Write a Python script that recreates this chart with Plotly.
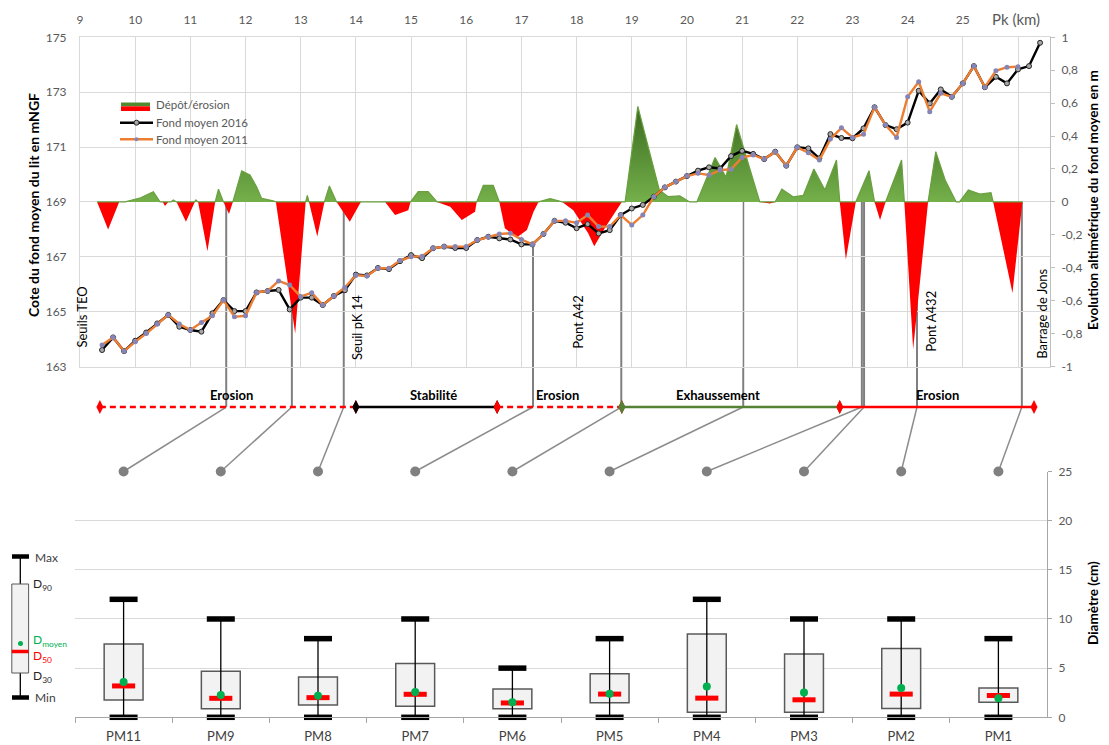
import plotly.graph_objects as go

W, H = 1109, 745          # browser window
OFF = 8                    # default page (body) margin of the html page
FW, FH = W - OFF, H - OFF  # figure fills the window from the body offset to its edge

# ---------------- data : top chart ----------------
pk = [9.4, 9.6, 9.8, 10.0, 10.2, 10.4, 10.6, 10.8, 11.0, 11.2,
      11.4, 11.6, 11.8, 12.0, 12.2, 12.4, 12.6, 12.8, 13.0, 13.2,
      13.4, 13.6, 13.8, 14.0, 14.2, 14.4, 14.6, 14.8, 15.0, 15.2,
      15.4, 15.6, 15.8, 16.0, 16.2, 16.4, 16.6, 16.8, 17.0, 17.2,
      17.4, 17.6, 17.8, 18.0, 18.2, 18.4, 18.6, 18.8, 19.0, 19.2,
      19.4, 19.6, 19.8, 20.0, 20.2, 20.4, 20.6, 20.8, 21.0, 21.2,
      21.4, 21.6, 21.8, 22.0, 22.2, 22.4, 22.6, 22.8, 23.0, 23.2,
      23.4, 23.6, 23.8, 24.0, 24.2, 24.4, 24.6, 24.8, 25.0, 25.2,
      25.4, 25.6, 25.8, 26.0, 26.2, 26.4]

fond_2016 = [163.60, 164.06, 163.56, 163.94, 164.24, 164.57, 164.88, 164.45, 164.33, 164.27,
             164.94, 165.42, 165.02, 165.02, 165.70, 165.75, 165.79, 165.08, 165.51, 165.51,
             165.24, 165.57, 165.78, 166.35, 166.32, 166.59, 166.55, 166.84, 167.06, 166.95,
             167.31, 167.37, 167.32, 167.32, 167.61, 167.73, 167.67, 167.63, 167.45, 167.45,
             167.83, 168.31, 168.24, 168.04, 168.19, 167.85, 167.97, 168.52, 168.76, 168.89,
             169.19, 169.53, 169.74, 169.94, 170.14, 170.26, 170.22, 170.67, 170.86, 170.75,
             170.56, 170.83, 170.32, 170.99, 170.95, 170.59, 171.47, 171.33, 171.32, 171.68,
             172.45, 171.80, 171.65, 171.89, 173.05, 172.59, 173.10, 172.83, 173.32, 173.95,
             173.18, 173.56, 173.32, 173.83, 173.95, 174.80]

pk_2011 = [9.4, 9.6, 9.8, 10.0, 10.2, 10.4, 10.6, 10.8, 11.0, 11.2,
           11.4, 11.6, 11.8, 12.0, 12.2, 12.4, 12.6, 12.8, 13.0, 13.2,
           13.4, 13.6, 13.8, 14.0, 14.2, 14.4, 14.6, 14.8, 15.0, 15.2,
           15.4, 15.6, 15.8, 16.0, 16.2, 16.4, 16.6, 16.8, 17.0, 17.2,
           17.4, 17.6, 17.8, 18.0, 18.2, 18.4, 18.6, 18.8, 19.0, 19.2,
           19.4, 19.6, 19.8, 20.0, 20.2, 20.4, 20.6, 20.8, 21.0, 21.2,
           21.4, 21.6, 21.8, 22.0, 22.2, 22.4, 22.6, 22.8, 23.0, 23.2,
           23.4, 23.6, 23.8, 24.0, 24.2, 24.4, 24.6, 24.8, 25.0, 25.2,
           25.4, 25.6, 25.8, 26.0]

fond_2011 = [163.78, 164.06, 163.56, 163.90, 164.20, 164.55, 164.88, 164.55, 164.33, 164.60,
             164.85, 165.42, 164.81, 164.85, 165.70, 165.75, 166.12, 165.97, 165.55, 165.69,
             165.24, 165.57, 165.88, 166.33, 166.30, 166.58, 166.58, 166.86, 167.00, 167.02,
             167.31, 167.37, 167.37, 167.37, 167.61, 167.73, 167.83, 167.86, 167.63, 167.45,
             167.83, 168.31, 168.31, 168.24, 168.52, 168.10, 168.10, 168.52, 168.16, 168.52,
             169.19, 169.53, 169.74, 169.94, 170.04, 169.98, 170.16, 170.19, 170.62, 170.71,
             170.56, 170.83, 170.32, 170.99, 170.79, 170.53, 171.29, 171.70, 171.35, 171.47,
             172.45, 171.80, 171.35, 172.83, 173.38, 172.29, 172.96, 172.83, 173.32, 173.95,
             173.18, 173.78, 173.91, 173.93]

# Dépôt / érosion (m), vertices of the area
pk_evol = [9.31, 9.51, 9.71, 9.82, 10.10, 10.33, 10.45, 10.50, 10.54, 10.60,
           10.65, 10.69, 10.75, 10.92, 11.08, 11.10, 11.14, 11.31, 11.45, 11.51,
           11.60, 11.70, 11.77, 11.93, 12.08, 12.20, 12.29, 12.50, 12.55, 12.90,
           13.09, 13.12, 13.15, 13.30, 13.43, 13.52, 13.65, 13.89, 14.09, 14.53,
           14.71, 14.95, 14.99, 15.13, 15.31, 15.47, 15.71, 15.92, 16.16, 16.19,
           16.31, 16.49, 16.60, 16.70, 16.85, 16.94, 17.10, 17.22, 17.31, 17.52,
           17.74, 17.94, 18.21, 18.32, 18.53, 18.82, 18.88, 19.11, 19.50, 19.66,
           19.87, 20.05, 20.18, 20.51, 20.71, 20.90, 21.32, 21.50, 21.60, 21.72,
           21.93, 22.11, 22.30, 22.50, 22.71, 22.77, 22.88, 23.06, 23.30, 23.40,
           23.50, 23.60, 23.89, 23.94, 24.10, 24.37, 24.51, 24.68, 24.88, 24.94,
           25.10, 25.31, 25.51, 25.55, 25.90, 26.08]
evol = [0, -0.167, 0, 0, 0.025, 0.062, 0, 0, -0.025, 0,
        0, 0.012, 0, -0.12, 0, 0.012, 0, -0.30, 0, 0.077,
        0, -0.073, 0, 0.188, 0.163, 0.092, 0.022, 0.006, 0, -0.80,
        0, 0.04, 0, -0.21, 0, 0.097, 0, -0.12, 0, 0,
        -0.08, -0.05, 0, 0.062, 0.062, 0, -0.03, -0.11, -0.06, 0,
        0.10, 0.10, 0, -0.16, -0.20, -0.21, -0.17, -0.06, 0, 0.02,
        0, -0.05, -0.19, -0.27, -0.15, 0, 0, 0.58, 0.072, 0.032,
        0.036, 0, 0, 0.27, 0.15, 0.47, 0, -0.01, 0, 0.077,
        0.03, 0.04, 0.20, 0.072, 0.255, 0, -0.35, 0, 0.19, 0,
        -0.11, 0, 0.255, 0, -0.895, 0, 0.305, 0.133, 0, 0,
        0.072, 0.048, 0.056, 0, -0.553, 0]

site_labels = ["Seuils TEO", "Seuil pK 14", "Pont A42", "Pont A432", "Barrage de Jons"]
site_label_pk = [9.04, 14.02, 18.02, 24.42, 26.43]
site_label_z = [164.79, 164.44, 164.62, 164.66, 164.91]

zone_labels = ["Erosion", "Stabilité", "Erosion", "Exhaussement", "Erosion"]
zone_start = [9.36, 14.0, 16.56, 18.82, 22.77]
zone_end = [14.0, 16.56, 18.82, 22.77, 26.29]
zone_label_pk = [11.75, 15.40, 17.66, 20.56, 24.55]
zone_color = ["#ff0000", "#000000", "#ff0000", "#548235", "#ff0000"]
zone_dash = ["6px,4px", "solid", "6px,4px", "solid", "solid"]

# ---------------- data : grain sizes ----------------
stations = ["PM11", "PM9", "PM8", "PM7", "PM6", "PM5", "PM4", "PM3", "PM2", "PM1"]
station_pk = [11.65, 12.84, 13.78, 17.21, 18.81, 21.02, 23.17, 23.21, 24.17, 26.07]
station_top_z = [169, 169, 169, 167.45, 168.5, 169, 169, 169, 169, 169]
d_min = [0, 0, 0, 0, 0, 0, 0, 0, 0, 0]
d30 = [1.76, 0.88, 1.25, 1.12, 0.88, 1.47, 0.51, 0.51, 0.89, 1.54]
d50 = [3.19, 1.93, 2.00, 2.34, 1.46, 2.36, 1.95, 1.78, 2.36, 2.22]
d_moy = [3.60, 2.27, 2.20, 2.58, 1.53, 2.39, 3.14, 2.53, 2.97, 1.95]
d90 = [7.46, 4.68, 4.10, 5.46, 2.88, 4.44, 8.47, 6.45, 7.00, 2.97]
d_max = [12, 10, 8, 10, 5, 8, 12, 10, 10, 8]

# ---------------- layout geometry (window pixels -> paper) ----------------


def px(x):
    return (x - OFF) / FW


def py(y):
    return 1 - (y - OFF) / FH


TOP_X = (px(80), px(1050))
TOP_Y = (py(366.5), py(37.3))
STRIP_Y = (py(471.5), py(366.5))
BOT_X = (px(75), px(1047))
BOT_Y = (py(717.3), py(471.5))
PK_RANGE = (9, 26.58)
Z_RANGE = (163, 175)
EVOL_RANGE = (-1, 1)
D_RANGE = (0, 25)
ROW = 0.614
LABEL_ROW = 0.73

FONT = "Lato, 'Open Sans', sans-serif"
GRAY = "#595959"
GRID = "#d9d9d9"


def lin(v, r, d):
    return d[0] + (v - r[0]) / (r[1] - r[0]) * (d[1] - d[0])


def cat_paper(i):
    return BOT_X[0] + (i + 0.5) / len(stations) * (BOT_X[1] - BOT_X[0])


row_paper = lin(ROW, (0, 1), STRIP_Y)
dot_paper = lin(D_RANGE[1], D_RANGE, BOT_Y)

fig = go.Figure()

# ---- area dépôt/érosion (base axis y, right side) ----
fig.add_trace(go.Scatter(
    x=pk_evol, y=[min(v, 0) for v in evol], mode="lines", fill="tozeroy",
    fillcolor="#ff0000", line=dict(width=0, color="#ff0000"),
    xaxis="x", yaxis="y", hoverinfo="skip"))
fig.add_trace(go.Scatter(
    x=pk_evol, y=[max(v, 0) for v in evol], mode="lines", fill="tozeroy",
    fillgradient=dict(type="vertical", colorscale=[[0, "#74b04a"], [1, "#3a6a20"]]),
    line=dict(width=1.2, color="#6a9f3f"),
    xaxis="x", yaxis="y", hoverinfo="skip"))

# ---- mean bed elevation lines (overlay axis y2) ----
fig.add_trace(go.Scatter(
    x=pk, y=fond_2016, mode="lines+markers",
    line=dict(color="#000000", width=2.4),
    marker=dict(size=5, color="#a6a6a6", line=dict(color="#262626", width=1)),
    xaxis="x", yaxis="y2"))
fig.add_trace(go.Scatter(
    x=pk_2011, y=fond_2011, mode="lines+markers",
    line=dict(color="#ed7d31", width=2.4),
    marker=dict(size=5, color="#8585b8", line=dict(width=0)),
    xaxis="x", yaxis="y2"))

# ---- zones (strip subplot) ----
for s, e, c, dsh in zip(zone_start, zone_end, zone_color, zone_dash):
    fig.add_trace(go.Scatter(
        x=[s, e], y=[ROW, ROW], mode="lines+markers",
        line=dict(color=c, width=2.6, dash=dsh),
        marker=dict(symbol="diamond-tall", size=10, color=c),
        xaxis="x3", yaxis="y4", cliponaxis=False, hoverinfo="skip"))

# ---- grain size boxes ----
wx, wy = [], []
for i, st in enumerate(stations):
    wx += [st, st, None]
    wy += [d_min[i], d_max[i], None]
fig.add_trace(go.Scatter(x=wx, y=wy, mode="lines", line=dict(color="#000000", width=1.3),
                         xaxis="x2", yaxis="y3", hoverinfo="skip"))
fig.add_trace(go.Bar(
    x=stations, y=[b - a for a, b in zip(d30, d90)], base=d30, width=0.4,
    marker=dict(color="#f2f2f2", line=dict(color="#595959", width=1.5)),
    xaxis="x2", yaxis="y3"))
fig.add_trace(go.Scatter(
    x=stations + stations, y=d_min + d_max, mode="markers",
    marker=dict(symbol="line-ew", size=20, line=dict(color="#000000", width=5.5)),
    xaxis="x2", yaxis="y3", cliponaxis=False))
fig.add_trace(go.Scatter(
    x=stations, y=d50, mode="markers",
    marker=dict(symbol="line-ew", size=16.5, line=dict(color="#ff0000", width=5)),
    xaxis="x2", yaxis="y3", cliponaxis=False))
fig.add_trace(go.Scatter(
    x=stations, y=d_moy, mode="markers",
    marker=dict(symbol="circle", size=8, color="#00b050"),
    xaxis="x2", yaxis="y3", cliponaxis=False))
fig.add_trace(go.Scatter(
    x=stations, y=[D_RANGE[1]] * len(stations), mode="markers",
    marker=dict(symbol="circle", size=10, color="#808080"),
    xaxis="x2", yaxis="y3", cliponaxis=False))

shapes = []
# connectors: vertical drop lines + slanted links to the stations
for i, (k, zt) in enumerate(zip(station_pk, station_top_z)):
    xp = lin(k, PK_RANGE, TOP_X)
    shapes.append(dict(type="line", xref="paper", yref="paper", layer="below",
                       x0=xp, x1=xp, y0=lin(zt, Z_RANGE, TOP_Y), y1=row_paper,
                       line=dict(color="#7f7f7f", width=2)))
    shapes.append(dict(type="line", xref="paper", yref="paper", layer="below",
                       x0=xp, x1=cat_paper(i), y0=row_paper, y1=dot_paper,
                       line=dict(color="#8c8c8c", width=1.5)))

# legend (top chart)
shapes += [
    dict(type="rect", xref="paper", yref="paper", x0=px(121), x1=px(150), y0=py(106.3), y1=py(102.5),
         fillcolor="#4f8a2e", line=dict(width=0)),
    dict(type="rect", xref="paper", yref="paper", x0=px(121), x1=px(150), y0=py(111), y1=py(106.3),
         fillcolor="#ff0000", line=dict(width=0)),
    dict(type="line", xref="paper", yref="paper", x0=px(120), x1=px(153), y0=py(122.7), y1=py(122.7),
         line=dict(color="#000000", width=2.5)),
    dict(type="circle", xref="paper", yref="paper", x0=px(134), x1=px(139), y0=py(125.2), y1=py(120.2),
         fillcolor="#a6a6a6", line=dict(color="#262626", width=1)),
    dict(type="line", xref="paper", yref="paper", x0=px(120), x1=px(153), y0=py(139.3), y1=py(139.3),
         line=dict(color="#ed7d31", width=2.5)),
    dict(type="circle", xref="paper", yref="paper", x0=px(134.5), x1=px(138.5), y0=py(141.3), y1=py(137.3),
         fillcolor="#8585b8", line=dict(width=0)),
]
# box-plot key (bottom left)
shapes += [
    dict(type="line", xref="paper", yref="paper", x0=px(20.3), x1=px(20.3), y0=py(556.5), y1=py(697.5),
         line=dict(color="#000000", width=1.3)),
    dict(type="rect", xref="paper", yref="paper", x0=px(11.8), x1=px(28.6), y0=py(673), y1=py(584),
         fillcolor="#f2f2f2", line=dict(color="#595959", width=1)),
    dict(type="line", xref="paper", yref="paper", x0=px(12), x1=px(29), y0=py(556.5), y1=py(556.5),
         line=dict(color="#000000", width=4.5)),
    dict(type="line", xref="paper", yref="paper", x0=px(12), x1=px(29), y0=py(697.5), y1=py(697.5),
         line=dict(color="#000000", width=4.5)),
    dict(type="line", xref="paper", yref="paper", x0=px(11.8), x1=px(28.6), y0=py(651.5), y1=py(651.5),
         line=dict(color="#ff0000", width=3.5)),
    dict(type="circle", xref="paper", yref="paper", x0=px(18), x1=px(23), y0=py(646), y1=py(641),
         fillcolor="#00b050", line=dict(width=0)),
]

ann = []
C = dict(xanchor="center", yanchor="middle", showarrow=False, xref="paper", yref="paper")
# axis titles
ann.append(dict(text="<b>Cote du fond moyen du lit en mNGF</b>", x=px(33), y=py(205),
                textangle=-90, font=dict(size=14, color="#000000"), **C))
ann.append(dict(text="<b>Evolution altimétrique du fond moyen en m</b>", x=px(1093), y=py(200),
                textangle=-90, font=dict(size=13.5, color="#000000"), **C))
ann.append(dict(text="<b>Diamètre (cm)</b>", x=px(1093), y=py(603),
                textangle=-90, font=dict(size=13.5, color="#000000"), **C))
ann.append(dict(text="Pk (km)", x=px(1016), y=py(19), font=dict(size=15, color=GRAY), **C))
# legend texts
for t, yy in zip(["Dépôt/érosion", "Fond moyen 2016", "Fond moyen 2011"], [105, 122.7, 139.5]):
    ann.append(dict(text=t, x=px(154), y=py(yy), xref="paper", yref="paper", xanchor="left",
                    yanchor="middle", showarrow=False, font=dict(size=11.5, color=GRAY)))
# site labels (vertical)
for t, k, z in zip(site_labels, site_label_pk, site_label_z):
    ann.append(dict(text=t, x=k, y=z, xref="x", yref="y2", textangle=-90, showarrow=False,
                    xanchor="center", yanchor="middle", font=dict(size=13, color="#000000")))
# zone labels
for t, k in zip(zone_labels, zone_label_pk):
    ann.append(dict(text=f"<b>{t}</b>", x=k, y=LABEL_ROW, xref="x3", yref="y4", showarrow=False,
                    xanchor="center", yanchor="middle", font=dict(size=13, color="#000000")))
# box key texts
for t, xx, yy, c in [("Max", 33, 557, "#404040"), ("D<sub>90</sub>", 31, 584, "#262626"),
                     ("D<sub>moyen</sub>", 31, 640, "#00b050"), ("D<sub>50</sub>", 31, 656, "#ff0000"),
                     ("D<sub>30</sub>", 31, 676, "#262626"), ("Min", 33, 697.5, "#404040")]:
    ann.append(dict(text=t, x=px(xx), y=py(yy), xref="paper", yref="paper", xanchor="left",
                    yanchor="middle", showarrow=False, font=dict(size=12, color=c)))

fig.update_layout(
    width=FW, height=FH, margin=dict(l=0, r=0, t=0, b=0, pad=0, autoexpand=False),
    paper_bgcolor="white", plot_bgcolor="white", showlegend=False,
    font=dict(family=FONT, size=12, color=GRAY),
    shapes=shapes, annotations=ann,
    xaxis=dict(domain=list(TOP_X), range=list(PK_RANGE), side="top", anchor="y", automargin=False,
               tickvals=list(range(9, 27)), ticktext=[str(v) for v in range(9, 26)] + [""],
               showgrid=True, gridcolor=GRID, gridwidth=1, zeroline=False,
               showline=True, mirror=True, linecolor=GRID, ticks="", ticklabelstandoff=8,
               tickfont=dict(size=12, color=GRAY)),
    yaxis=dict(domain=list(TOP_Y), range=list(EVOL_RANGE), side="right", anchor="x", automargin=False,
               tickvals=[-1, -0.8, -0.6, -0.4, -0.2, 0, 0.2, 0.4, 0.6, 0.8, 1],
               ticktext=["-1", "-0,8", "-0,6", "-0,4", "-0,2", "0", "0,2", "0,4", "0,6", "0,8", "1"],
               showgrid=False, zeroline=False, showline=True, linecolor="#bfbfbf",
               ticks="outside", ticklen=4, tickcolor="#bfbfbf", ticklabelstandoff=4,
               tickfont=dict(size=12, color=GRAY)),
    yaxis2=dict(range=list(Z_RANGE), overlaying="y", side="left", anchor="x", automargin=False,
                tickvals=[163, 165, 167, 169, 171, 173, 175],
                showgrid=True, gridcolor=GRID, zeroline=False, showline=True, linecolor=GRID,
                ticks="", ticklabelstandoff=10, tickfont=dict(size=12, color=GRAY)),
    xaxis3=dict(domain=list(TOP_X), range=list(PK_RANGE), anchor="y4", visible=False, automargin=False),
    yaxis4=dict(domain=list(STRIP_Y), range=[0, 1], anchor="x3", visible=False, automargin=False),
    xaxis2=dict(domain=list(BOT_X), anchor="y3", type="category", categoryorder="array", automargin=False,
                categoryarray=stations, range=[-0.5, len(stations) - 0.5],
                showgrid=False, showline=True, linecolor="#a6a6a6", ticks="outside",
                tickson="boundaries", ticklen=5, tickcolor="#a6a6a6", ticklabelstandoff=7,
                tickfont=dict(size=13, color="#404040")),
    yaxis3=dict(domain=list(BOT_Y), range=list(D_RANGE), anchor="x2", side="right", automargin=False,
                tickvals=[0, 5, 10, 15, 20, 25], showgrid=True, gridcolor=GRID, zeroline=False,
                showline=True, linecolor="#a6a6a6", ticks="outside", ticklen=4, tickcolor="#a6a6a6",
                ticklabelstandoff=4, tickfont=dict(size=12, color=GRAY)),
)

fig.write_html("out.html")
